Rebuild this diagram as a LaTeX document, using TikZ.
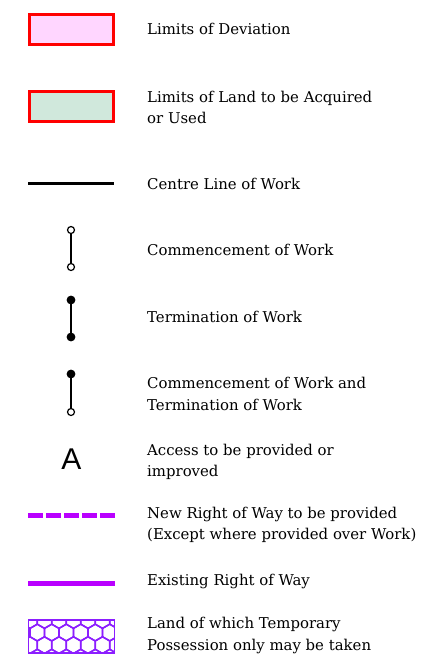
\documentclass[tikz,border=0pt]{standalone}
\usepackage{fontspec}
\setmainfont{DejaVu Serif}
\newfontfamily\accessfont{Liberation Sans}
\definecolor{devfill}{RGB}{255,214,255}
\definecolor{landfill}{RGB}{208,232,220}
\definecolor{wayline}{RGB}{185,0,255}
\definecolor{hexline}{RGB}{140,30,255}

\begin{document}
\begin{tikzpicture}[x=1pt, y=-1pt]
    \tikzstyle{legtext}=[anchor=west, align=left, inner sep=0pt, font=\fontsize{14.9}{21.5}\selectfont];
    \tikzstyle{redbox}=[draw=red, line width=3pt, minimum width=84pt, minimum height=30pt, inner sep=0pt];
    \tikzstyle{opencirc}=[circle, draw, fill=white, line width=1.2pt, minimum size=7pt, inner sep=0pt];
    \tikzstyle{fullcirc}=[circle, draw, fill=black, line width=1.2pt, minimum size=7.5pt, inner sep=0pt];

    \useasboundingbox (0, 0) rectangle (427, 654);

    % symbols
    \node (devbox) at (71, 29) [redbox, fill=devfill] {};
    \node (landbox) at (71, 106.5) [redbox, fill=landfill] {};

    \coordinate (cl1) at (28, 183);
    \coordinate (cl2) at (114, 183);
    \draw[line width=3pt] (cl1) -- (cl2);

    \node (com1) at (71, 230) [opencirc] {};
    \node (com2) at (71, 267) [opencirc] {};
    \draw[line width=1.2pt] (com1) -- (com2);

    \node (ter1) at (71, 300) [fullcirc] {};
    \node (ter2) at (71, 337) [fullcirc] {};
    \draw[line width=1.2pt] (ter1) -- (ter2);

    \node (both1) at (71, 374) [fullcirc] {};
    \node (both2) at (71, 412) [opencirc] {};
    \draw[line width=1.2pt] (both1) -- (both2);

    \node (acc) at (71.5, 459) [inner sep=0pt, font=\accessfont\fontsize{30}{30}\selectfont] {A};

    \coordinate (nw1) at (28, 515);
    \coordinate (nw2) at (115, 515);
    \draw[wayline, line width=5pt, dash pattern=on 15pt off 3pt] (nw1) -- (nw2);

    \coordinate (ew1) at (28, 583);
    \coordinate (ew2) at (115, 583);
    \draw[wayline, line width=5pt] (ew1) -- (ew2);

    \begin{scope}
        \clip (28.5, 620) rectangle (114.5, 653);
        \foreach \j in {-1, 0, 1, 2, 3} {
            \foreach \i in {-1, 0, ..., 7} {
                \pgfmathsetmacro{\cx}{30 + \i*14.5 + mod(\j+2, 2)*7.25}
                \pgfmathsetmacro{\cy}{620 + \j*12.56}
                \draw[hexline, line width=1.5pt] (\cx, \cy) ++(30:8.37) -- ++(150:8.37) -- ++(210:8.37) -- ++(270:8.37) -- ++(330:8.37) -- ++(30:8.37) -- cycle;
            }
        }
    \end{scope}
    \node (hexbox) at (71.5, 636.5) [draw=hexline, line width=1.5pt, minimum width=86pt, minimum height=33pt, inner sep=0pt] {};

    % texts
    \node (devtext) at (147, 29) [legtext] {Limits of Deviation};
    \node (landtext) at (147, 107.5) [legtext] {Limits of Land to be Acquired\\or Used};
    \node (cltext) at (147, 184) [legtext] {Centre Line of Work};
    \node (comtext) at (147, 250) [legtext] {Commencement of Work};
    \node (tertext) at (147, 317) [legtext] {Termination of Work};
    \node (bothtext) at (147, 394) [legtext] {Commencement of Work and\\Termination of Work};
    \node (acctext) at (147, 462) [legtext] {Access to be provided or\\improved};
    \node (nwtext) at (147, 525) [legtext] {New Right of Way to be provided\\(Except where provided over Work)};
    \node (ewtext) at (147, 581) [legtext] {Existing Right of Way};
    \node (hextext) at (147, 635.5) [legtext] {Land of which Temporary\\Possession only may be taken};
\end{tikzpicture}
\end{document}
